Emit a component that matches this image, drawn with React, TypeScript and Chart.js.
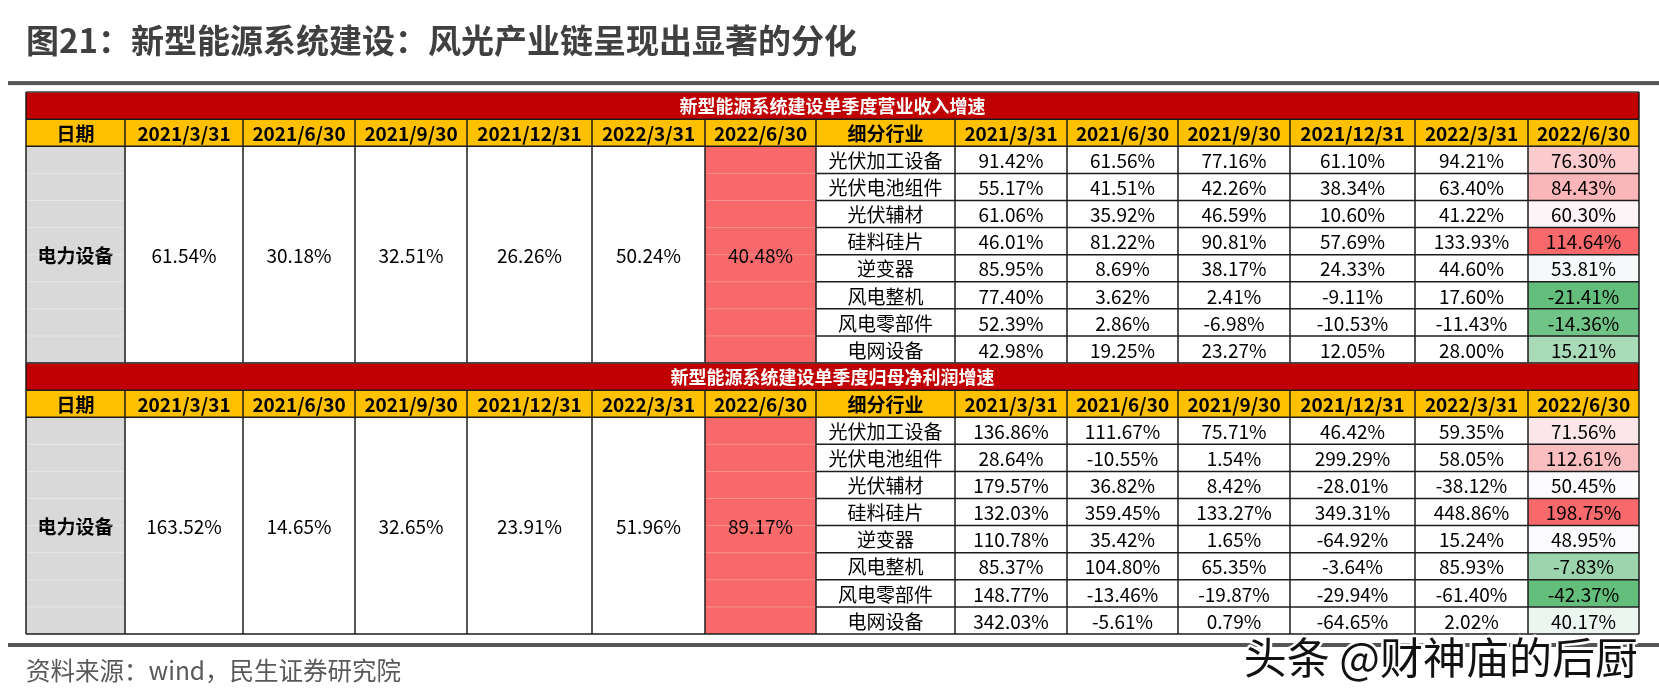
import React, { useEffect, useRef } from 'react';
import { Chart, registerables } from 'chart.js';

Chart.register(...registerables);

// ---------- text ----------
const TITLE = '图21：新型能源系统建设：风光产业链呈现出显著的分化';
const SOURCE = '资料来源：wind，民生证券研究院';
const WATERMARK = '头条 @财神庙的后厨';
const REVENUE_TITLE = '新型能源系统建设单季度营业收入增速';
const PROFIT_TITLE = '新型能源系统建设单季度归母净利润增速';
const DATE_LABEL = '日期';
const SEGMENT_LABEL = '细分行业';
const INDUSTRY = '电力设备';

// ---------- categories ----------
const PERIODS = ['2021/3/31', '2021/6/30', '2021/9/30', '2021/12/31', '2022/3/31', '2022/6/30'];
const SEGMENTS = ['光伏加工设备', '光伏电池组件', '光伏辅材', '硅料硅片', '逆变器', '风电整机', '风电零部件', '电网设备'];

// ---------- revenue growth (%) ----------
const REVENUE_TOTAL = [61.54, 30.18, 32.51, 26.26, 50.24, 40.48];
const REVENUE_2021_03 = [91.42, 55.17, 61.06, 46.01, 85.95, 77.40, 52.39, 42.98];
const REVENUE_2021_06 = [61.56, 41.51, 35.92, 81.22, 8.69, 3.62, 2.86, 19.25];
const REVENUE_2021_09 = [77.16, 42.26, 46.59, 90.81, 38.17, 2.41, -6.98, 23.27];
const REVENUE_2021_12 = [61.10, 38.34, 10.60, 57.69, 24.33, -9.11, -10.53, 12.05];
const REVENUE_2022_03 = [94.21, 63.40, 41.22, 133.93, 44.60, 17.60, -11.43, 28.00];
const REVENUE_2022_06 = [76.30, 84.43, 60.30, 114.64, 53.81, -21.41, -14.36, 15.21];

// ---------- net profit growth (%) ----------
const PROFIT_TOTAL = [163.52, 14.65, 32.65, 23.91, 51.96, 89.17];
const PROFIT_2021_03 = [136.86, 28.64, 179.57, 132.03, 110.78, 85.37, 148.77, 342.03];
const PROFIT_2021_06 = [111.67, -10.55, 36.82, 359.45, 35.42, 104.80, -13.46, -5.61];
const PROFIT_2021_09 = [75.71, 1.54, 8.42, 133.27, 1.65, 65.35, -19.87, 0.79];
const PROFIT_2021_12 = [46.42, 299.29, -28.01, 349.31, -64.92, -3.64, -29.94, -64.65];
const PROFIT_2022_03 = [59.35, 58.05, -38.12, 448.86, 15.24, 85.93, -61.40, 2.02];
const PROFIT_2022_06 = [71.56, 112.61, 50.45, 198.75, 48.95, -7.83, -42.37, 40.17];

const REVENUE_BY_PERIOD = [REVENUE_2021_03, REVENUE_2021_06, REVENUE_2021_09, REVENUE_2021_12, REVENUE_2022_03, REVENUE_2022_06];
const PROFIT_BY_PERIOD = [PROFIT_2021_03, PROFIT_2021_06, PROFIT_2021_09, PROFIT_2021_12, PROFIT_2022_03, PROFIT_2022_06];

// ---------- layout (column widths in scale units) ----------
const COL_WIDTHS = [99, 118, 112, 112, 125, 113, 111, 139, 112, 111, 112, 125, 113, 111];
const ROWS_PER_TABLE = 2 + SEGMENTS.length;

const FONT = '"Noto Sans CJK SC", "Noto Sans", sans-serif';
const BAND_RED = '#C00000';
const HEADER_YELLOW = '#FFC000';
const INDUSTRY_GRAY = '#D9D9D9';
const HIGHLIGHT = '#F8696B';
const LINE = '#1c1c1c';
const GREEN = [99, 190, 123];
const WHITE = [252, 252, 255];
const RED = [248, 105, 107];

const fmt = (v: number) => v.toFixed(2) + '%';

function percentile(vals: number[], p: number) {
  const s = [...vals].sort((a, b) => a - b);
  const rank = p * (s.length - 1);
  const lo = Math.floor(rank);
  const hi = Math.ceil(rank);
  return s[lo] + (s[hi] - s[lo]) * (rank - lo);
}

function mix(a: number[], b: number[], t: number) {
  const c = a.map((v, i) => Math.round(v + (b[i] - v) * Math.max(0, Math.min(1, t))));
  return `rgb(${c[0]},${c[1]},${c[2]})`;
}

function scaleColor(v: number, vals: number[]) {
  const min = Math.min(...vals);
  const max = Math.max(...vals);
  const mid = percentile(vals, 0.5);
  if (v <= mid) return mix(GREEN, WHITE, (v - min) / (mid - min));
  return mix(WHITE, RED, (v - mid) / (max - mid));
}

const tablePlugin = {
  id: 'tableCells',
  afterDatasetsDraw(chart: any) {
    const { ctx, scales, chartArea } = chart;
    const xs = scales.x;
    const ys = scales.y;
    const edges: number[] = [0];
    COL_WIDTHS.forEach((w) => edges.push(edges[edges.length - 1] + w));
    const X = (i: number) => xs.getPixelForValue(edges[i]);
    const Y = (r: number) => ys.getPixelForValue(r);
    const nC = COL_WIDTHS.length;

    const fill = (c0: number, c1: number, r0: number, r1: number, color: string) => {
      ctx.fillStyle = color;
      ctx.fillRect(X(c0), Y(r0), X(c1) - X(c0), Y(r1) - Y(r0));
    };
    const text = (s: string, c0: number, c1: number, r0: number, r1: number, font: string, color: string) => {
      ctx.font = font;
      ctx.fillStyle = color;
      ctx.textAlign = 'center';
      ctx.textBaseline = 'middle';
      ctx.fillText(s, (X(c0) + X(c1)) / 2, (Y(r0) + Y(r1)) / 2 + 1);
    };
    const line = (x1: number, y1: number, x2: number, y2: number, color: string, w: number) => {
      ctx.strokeStyle = color;
      ctx.lineWidth = w;
      ctx.beginPath();
      ctx.moveTo(x1, y1);
      ctx.lineTo(x2, y2);
      ctx.stroke();
    };

    const bold = `bold 19px ${FONT}`;
    const normal = `19px ${FONT}`;

    const drawTable = (r0: number, title: string, totals: number[], byPeriod: number[][]) => {
      const hr = r0 + 1;
      const b0 = r0 + 2;
      const b1 = b0 + SEGMENTS.length;
      // band
      fill(0, nC, r0, hr, BAND_RED);
      text(title, 0, nC, r0, hr, `bold 18px ${FONT}`, '#ffffff');
      // header
      fill(0, nC, hr, b0, HEADER_YELLOW);
      const headers = [DATE_LABEL, ...PERIODS, SEGMENT_LABEL, ...PERIODS];
      headers.forEach((h, i) => text(h, i, i + 1, hr, b0, bold, '#000000'));
      // industry summary
      fill(0, 1, b0, b1, INDUSTRY_GRAY);
      text(INDUSTRY, 0, 1, b0, b1, bold, '#000000');
      totals.forEach((v, p) => {
        const col = 1 + p;
        fill(col, col + 1, b0, b1, p === totals.length - 1 ? HIGHLIGHT : '#ffffff');
        text(fmt(v), col, col + 1, b0, b1, normal, '#000000');
      });
      // segments
      const latest = byPeriod[byPeriod.length - 1];
      SEGMENTS.forEach((seg, s) => {
        const r = b0 + s;
        fill(7, 8, r, r + 1, '#ffffff');
        text(seg, 7, 8, r, r + 1, normal, '#000000');
        byPeriod.forEach((vals, p) => {
          const col = 8 + p;
          const bg = p === byPeriod.length - 1 ? scaleColor(vals[s], latest) : '#ffffff';
          fill(col, col + 1, r, r + 1, bg);
          text(fmt(vals[s]), col, col + 1, r, r + 1, normal, '#000000');
        });
      });
      // faint row lines inside merged cells
      for (let r = b0 + 1; r < b1; r++) {
        line(X(0), Y(r), X(1), Y(r), 'rgba(255,255,255,0.35)', 1);
        line(X(6), Y(r), X(7), Y(r), 'rgba(255,255,255,0.25)', 1);
      }
      // grid lines
      line(X(0), Y(r0), X(nC), Y(r0), '#444444', 1.5);
      line(X(0), Y(hr), X(nC), Y(hr), LINE, 1.5);
      line(X(0), Y(b0), X(nC), Y(b0), LINE, 1.5);
      line(X(0), Y(b1), X(nC), Y(b1), LINE, 1.5);
      for (let r = b0 + 1; r < b1; r++) line(X(7), Y(r), X(nC), Y(r), LINE, 1.5);
      line(X(0), Y(r0), X(0), Y(hr), LINE, 1.5);
      line(X(nC), Y(r0), X(nC), Y(hr), LINE, 1.5);
      for (let c = 0; c <= nC; c++) line(X(c), Y(hr), X(c), Y(b1), LINE, 1.5);
    };

    drawTable(0, REVENUE_TITLE, REVENUE_TOTAL, REVENUE_BY_PERIOD);
    drawTable(ROWS_PER_TABLE, PROFIT_TITLE, PROFIT_TOTAL, PROFIT_BY_PERIOD);

    // rules above and below the table
    const W = chart.width;
    ctx.fillStyle = '#555555';
    ctx.fillRect(8, chartArea.top - 11, W - 8, 4);
    ctx.fillRect(8, chartArea.bottom + 9, W - 8, 4);

    // watermark
    ctx.font = `43px ${FONT}`;
    ctx.textAlign = 'right';
    ctx.textBaseline = 'middle';
    ctx.lineJoin = 'round';
    ctx.strokeStyle = '#ffffff';
    ctx.lineWidth = 5;
    ctx.strokeText(WATERMARK, chartArea.right - 1, chartArea.bottom + 24);
    ctx.fillStyle = '#111111';
    ctx.fillText(WATERMARK, chartArea.right - 1, chartArea.bottom + 24);
  },
};

export default function App() {
  const ref = useRef<HTMLCanvasElement>(null);
  useEffect(() => {
    document.body.style.margin = '0';
    const total = COL_WIDTHS.reduce((a, b) => a + b, 0);
    const chart = new Chart(ref.current as HTMLCanvasElement, {
      type: 'scatter',
      data: { datasets: [] },
      options: {
        responsive: false,
        animation: false,
        devicePixelRatio: 1,
        layout: { padding: { left: 26, right: 20, top: 0, bottom: 0 } },
        scales: {
          x: { type: 'linear', min: 0, max: total, display: false },
          y: { type: 'linear', min: 0, max: ROWS_PER_TABLE * 2, reverse: true, display: false },
        },
        plugins: {
          legend: { display: false },
          tooltip: { enabled: false },
          title: {
            display: true,
            text: TITLE,
            align: 'start',
            color: '#404040',
            font: { family: FONT, size: 33, weight: 'bold' },
            padding: { top: 21, bottom: 31.5 },
          },
          subtitle: {
            display: true,
            text: SOURCE,
            position: 'bottom',
            align: 'start',
            color: '#595959',
            font: { family: FONT, size: 24.5, weight: 'normal' },
            padding: { top: 22, bottom: 14.6 },
          },
        },
      },
      plugins: [tablePlugin],
    });
    return () => chart.destroy();
  }, []);
  return <canvas ref={ref} width={1659} height={700} style={{ display: 'block' }} />;
}
